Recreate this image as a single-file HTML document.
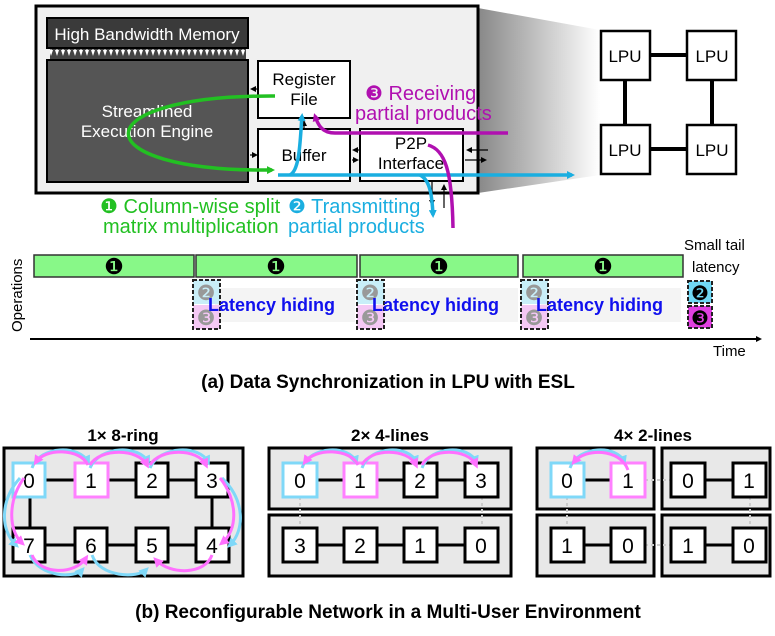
<!DOCTYPE html>
<html><head><meta charset="utf-8"><style>
body{margin:0;background:#fff;}
svg{display:block;font-family:"Liberation Sans",sans-serif;}
</style></head><body>
<svg width="775" height="636" viewBox="0 0 775 636" xmlns="http://www.w3.org/2000/svg">
<defs>
<linearGradient id="sh" x1="0" x2="1" y1="0" y2="0"><stop offset="0" stop-color="#888"/><stop offset="1" stop-color="#fff"/></linearGradient>
<pattern id="tp" width="6" height="12" patternUnits="userSpaceOnUse"><rect width="6" height="12" fill="#444"/><path d="M1,2 L5,2 L3,8z" fill="#fff"/><path d="M3,0V3" stroke="#fff" stroke-width="1"/></pattern>
<marker id="ag" markerWidth="8" markerHeight="8" refX="5" refY="4" orient="auto" markerUnits="userSpaceOnUse"><path d="M0,0 L8,4 L0,8z" fill="#22c022"/></marker>
<marker id="ac" markerWidth="8" markerHeight="8" refX="5" refY="4" orient="auto" markerUnits="userSpaceOnUse"><path d="M0,0 L8,4 L0,8z" fill="#1aaee0"/></marker>
<marker id="am" markerWidth="8" markerHeight="8" refX="5" refY="4" orient="auto" markerUnits="userSpaceOnUse"><path d="M0,0 L8,4 L0,8z" fill="#b010b0"/></marker>
<marker id="ab" markerWidth="6" markerHeight="6" refX="4" refY="3" orient="auto" markerUnits="userSpaceOnUse"><path d="M0,0 L6,3 L0,6z" fill="#000"/></marker>
<marker id="lc" markerWidth="10" markerHeight="10" refX="6" refY="5" orient="auto" markerUnits="userSpaceOnUse"><path d="M0,0 L10,5 L0,10z" fill="#7fd8f8"/></marker>
<marker id="lp" markerWidth="10" markerHeight="10" refX="6" refY="5" orient="auto" markerUnits="userSpaceOnUse"><path d="M0,0 L10,5 L0,10z" fill="#ff70ff"/></marker>
</defs>
<polygon points="478,8 600,30 600,175 478,193" fill="url(#sh)"/>
<rect x="36" y="6" width="442" height="187" fill="#f0f0f0" stroke="#000" stroke-width="3"/>
<rect x="47" y="18" width="201" height="30" fill="#3a3a3a" stroke="#000" stroke-width="2"/>
<text x="147" y="40" font-size="17" fill="#fff" text-anchor="middle">High Bandwidth Memory</text>
<rect x="50" y="49" width="196" height="11" fill="url(#tp)"/>
<rect x="47" y="60" width="201" height="122" fill="#555" stroke="#000" stroke-width="2"/>
<text x="147" y="117" font-size="17" fill="#fff" text-anchor="middle">Streamlined</text>
<text x="147" y="137" font-size="17" fill="#fff" text-anchor="middle">Execution Engine</text>
<rect x="258" y="61" width="92" height="57" fill="#fff" stroke="#000" stroke-width="2"/>
<text x="304" y="85" font-size="17" text-anchor="middle">Register</text>
<text x="304" y="105" font-size="17" text-anchor="middle">File</text>
<rect x="258" y="129" width="92" height="52" fill="#fff" stroke="#000" stroke-width="2"/>
<text x="304" y="161" font-size="17" text-anchor="middle">Buffer</text>
<rect x="360" y="129" width="103" height="52" fill="#fff" stroke="#000" stroke-width="2"/>
<text x="411" y="149" font-size="17" text-anchor="middle">P2P</text>
<text x="411" y="169" font-size="17" text-anchor="middle">Interface</text>
<g stroke="#000" stroke-width="1.2" fill="none">
<path d="M258,89h-6" marker-end="url(#ab)"/>
<path d="M250,155h6" marker-end="url(#ab)"/>
<path d="M304,128v-6" marker-end="url(#ab)"/>
<path d="M359,150h-5" marker-end="url(#ab)"/>
<path d="M352,160h5" marker-end="url(#ab)"/>
<path d="M488,150h-20" marker-end="url(#ab)"/>
<path d="M465,160h20" marker-end="url(#ab)"/>
<path d="M432,182v22" marker-end="url(#ab)"/>
<path d="M444,208v-22" marker-end="url(#ab)"/>
</g>
<path d="M275,96 C80,95 80,172 272,170" stroke="#22c022" stroke-width="3.5" fill="none" marker-end="url(#ag)"/>
<path d="M278,175 H572" stroke="#1aaee0" stroke-width="3.5" fill="none" marker-end="url(#ac)"/>
<path d="M290,175 C300,170 300,140 302,116" stroke="#1aaee0" stroke-width="3.5" fill="none" marker-end="url(#ac)"/>
<path d="M420,175 C430,180 432,195 433,215" stroke="#1aaee0" stroke-width="3.5" fill="none" marker-end="url(#ac)"/>
<path d="M508,133 H335 C322,133 318,125 315,116" stroke="#b010b0" stroke-width="3.5" fill="none" marker-end="url(#am)"/>
<path d="M428,145 C445,150 452,170 453,228" stroke="#b010b0" stroke-width="3.5" fill="none"/>
<text x="365" y="100" font-size="20" fill="#b010b0">❸ Receiving</text>
<text x="355" y="120" font-size="20" fill="#b010b0">partial products</text>
<text x="100" y="213" font-size="20" fill="#22c022">❶ Column-wise split</text>
<text x="103" y="233" font-size="20" fill="#22c022">matrix multiplication</text>
<text x="288" y="213" font-size="20" fill="#1aaee0">❷ Transmitting</text>
<text x="288" y="233" font-size="20" fill="#1aaee0">partial products</text>
<g stroke="#000" stroke-width="4"><path d="M650,55H687M650,149H687M625,80V125M712,80V125"/></g>
<g fill="#fff" stroke="#000" stroke-width="2.5">
<rect x="601" y="31" width="49" height="49"/><rect x="687" y="31" width="49" height="49"/>
<rect x="601" y="125" width="49" height="49"/><rect x="687" y="125" width="49" height="49"/>
</g>
<g font-size="17" text-anchor="middle"><text x="625" y="62">LPU</text><text x="712" y="62">LPU</text><text x="625" y="156">LPU</text><text x="712" y="156">LPU</text></g>
<g fill="#88f888" stroke="#333" stroke-width="1.5">
<rect x="34" y="255" width="160" height="22"/><rect x="196" y="255" width="161" height="22"/>
<rect x="360" y="255" width="158" height="22"/><rect x="523" y="255" width="160" height="22"/>
</g>
<g font-size="22" text-anchor="middle"><text x="114" y="274">❶</text><text x="276" y="274">❶</text><text x="439" y="274">❶</text><text x="603" y="274">❶</text></g>
<g>
<rect x="215" y="288" width="140" height="34" fill="#f4f4f4"/>
<rect x="378" y="288" width="140" height="34" fill="#f4f4f4"/>
<rect x="541" y="288" width="140" height="34" fill="#f4f4f4"/>
</g>
<g id="db">
<rect x="193" y="280" width="27" height="24" fill="#c8eef8"/><rect x="193" y="305" width="27" height="24" fill="#f4c8f4"/>
<rect x="193" y="280" width="27" height="49" fill="none" stroke="#222" stroke-width="2" stroke-dasharray="4,2"/>
<text x="206" y="300" font-size="21" fill="#999" text-anchor="middle">❷</text><text x="206" y="325" font-size="21" fill="#999" text-anchor="middle">❸</text>
</g>
<use href="#db" x="164"/><use href="#db" x="328"/>
<g font-size="18" font-weight="bold" fill="#1010ee"><text x="208" y="311">Latency hiding</text><text x="372" y="311">Latency hiding</text><text x="536" y="311">Latency hiding</text></g>
<rect x="688" y="281" width="24" height="22" fill="#70d8f4" stroke="#222" stroke-width="2" stroke-dasharray="4,2"/>
<rect x="688" y="306" width="24" height="22" fill="#e040e0" stroke="#222" stroke-width="2" stroke-dasharray="4,2"/>
<text x="700" y="300" font-size="20" text-anchor="middle">❷</text><text x="700" y="325" font-size="20" text-anchor="middle">❸</text>
<text x="684" y="250" font-size="15">Small tail</text><text x="692" y="272" font-size="15">latency</text>
<path d="M30,339H760" stroke="#000" stroke-width="2" marker-end="url(#ab)"/>
<text x="713" y="356" font-size="15">Time</text>
<text transform="translate(22,332) rotate(-90)" font-size="15">Operations</text>
<text x="388" y="388" font-size="19" font-weight="bold" text-anchor="middle">(a) Data Synchronization in LPU with ESL</text>
<g font-size="17" font-weight="bold" text-anchor="middle"><text x="123" y="441">1× 8-ring</text><text x="390" y="441">2× 4-lines</text><text x="653" y="441">4× 2-lines</text></g>
<g fill="#e8e8e8" stroke="#000" stroke-width="3">
<rect x="4" y="448" width="239" height="128"/>
<rect x="269" y="448" width="242" height="61"/><rect x="269" y="515" width="242" height="61"/>
<rect x="537" y="448" width="117" height="61"/><rect x="662" y="448" width="108" height="61"/>
<rect x="537" y="515" width="117" height="61"/><rect x="662" y="515" width="108" height="61"/>
</g>
<g stroke="#000" stroke-width="3">
<path d="M29,480H212M29,545H212M30,480V545M212,480V545"/>
<path d="M300,480H482M300,545H482"/>
<path d="M567,480H628M567,545H628M688,480H750M688,545H750"/>
</g>
<g stroke="#ccc" stroke-width="2" stroke-dasharray="3,3"><path d="M300,497V528M482,497V528M567,497V528M750,497V528M645,480H671M645,545H671"/></g>
<g fill="#fff" stroke="#000" stroke-width="3">
<rect x="75" y="463" width="33" height="34"/><rect x="136" y="463" width="32" height="34"/><rect x="196" y="463" width="32" height="34"/>
<rect x="13" y="528" width="32" height="34"/><rect x="75" y="528" width="32" height="34"/><rect x="136" y="528" width="32" height="34"/><rect x="196" y="528" width="33" height="34"/>
<rect x="344" y="463" width="33" height="34"/><rect x="404" y="463" width="33" height="34"/><rect x="465" y="463" width="33" height="34"/>
<rect x="283" y="528" width="34" height="34"/><rect x="344" y="528" width="33" height="34"/><rect x="404" y="528" width="33" height="34"/><rect x="465" y="528" width="33" height="34"/>
<rect x="611" y="463" width="34" height="34"/><rect x="671" y="463" width="34" height="34"/><rect x="733" y="463" width="33" height="34"/>
<rect x="551" y="528" width="33" height="34"/><rect x="611" y="528" width="34" height="34"/><rect x="671" y="528" width="34" height="34"/><rect x="733" y="528" width="33" height="34"/>
</g>
<g fill="#fff" stroke-width="3">
<rect x="13" y="463" width="32" height="34" stroke="#7fd8f8"/><rect x="75" y="463" width="33" height="34" stroke="#ff80ff"/>
<rect x="283" y="463" width="34" height="34" stroke="#7fd8f8"/><rect x="344" y="463" width="33" height="34" stroke="#ff80ff"/>
<rect x="551" y="463" width="33" height="34" stroke="#7fd8f8"/><rect x="611" y="463" width="34" height="34" stroke="#ff80ff"/>
</g>
<g font-size="21" text-anchor="middle">
<text x="29" y="488">0</text><text x="91" y="488">1</text><text x="152" y="488">2</text><text x="212" y="488">3</text>
<text x="29" y="553">7</text><text x="91" y="553">6</text><text x="152" y="553">5</text><text x="212" y="553">4</text>
<text x="300" y="488">0</text><text x="360" y="488">1</text><text x="420" y="488">2</text><text x="481" y="488">3</text>
<text x="300" y="553">3</text><text x="360" y="553">2</text><text x="420" y="553">1</text><text x="481" y="553">0</text>
<text x="567" y="488">0</text><text x="628" y="488">1</text><text x="688" y="488">0</text><text x="749" y="488">1</text>
<text x="567" y="553">1</text><text x="628" y="553">0</text><text x="688" y="553">1</text><text x="749" y="553">0</text>
</g>
<g fill="none" stroke-width="3">
<path d="M32,468 C40,445 80,445 88,462" stroke="#7fd8f8" marker-end="url(#lc)"/>
<path d="M90,468 C100,445 140,445 148,462" stroke="#7fd8f8" marker-end="url(#lc)"/>
<path d="M150,468 C160,445 200,445 208,462" stroke="#7fd8f8" marker-end="url(#lc)"/>
<path d="M88,465 C80,448 45,448 36,462" stroke="#ff70ff" marker-end="url(#lp)"/>
<path d="M90,465 C100,448 138,448 147,465" stroke="#ff70ff" marker-end="url(#lp)"/>
<path d="M150,465 C160,448 198,448 206,465" stroke="#ff70ff" marker-end="url(#lp)"/>
<path d="M20,478 C0,500 0,530 16,545" stroke="#7fd8f8" marker-end="url(#lc)"/>
<path d="M24,478 C8,500 8,530 22,543" stroke="#ff70ff" marker-end="url(#lp)"/>
<path d="M222,478 C245,500 245,530 230,545" stroke="#7fd8f8" marker-end="url(#lc)"/>
<path d="M220,478 C238,500 238,530 222,543" stroke="#ff70ff" marker-end="url(#lp)"/>
<path d="M30,555 C40,578 75,578 82,570" stroke="#7fd8f8" marker-end="url(#lc)"/>
<path d="M92,555 C100,578 138,578 146,570" stroke="#7fd8f8" marker-end="url(#lc)"/>
<path d="M32,555 C40,575 75,575 86,558" stroke="#ff70ff" marker-end="url(#lp)"/>
<path d="M212,555 C205,575 170,575 156,560" stroke="#ff70ff" marker-end="url(#lp)"/>
<path d="M302,468 C310,445 350,445 356,462" stroke="#7fd8f8" marker-end="url(#lc)"/>
<path d="M362,468 C370,445 410,445 416,462" stroke="#7fd8f8" marker-end="url(#lc)"/>
<path d="M422,468 C430,445 470,445 476,462" stroke="#7fd8f8" marker-end="url(#lc)"/>
<path d="M358,465 C350,448 315,448 305,462" stroke="#ff70ff" marker-end="url(#lp)"/>
<path d="M362,465 C370,448 408,448 416,465" stroke="#ff70ff" marker-end="url(#lp)"/>
<path d="M422,465 C430,448 468,448 476,465" stroke="#ff70ff" marker-end="url(#lp)"/>
<path d="M570,468 C578,445 618,445 624,462" stroke="#7fd8f8" marker-end="url(#lc)"/>
<path d="M628,470 C620,448 585,448 574,462" stroke="#ff70ff" marker-end="url(#lp)"/>
</g>
<text x="388" y="618" font-size="19" font-weight="bold" text-anchor="middle">(b) Reconfigurable Network in a Multi-User Environment</text>
</svg>
</body></html>
